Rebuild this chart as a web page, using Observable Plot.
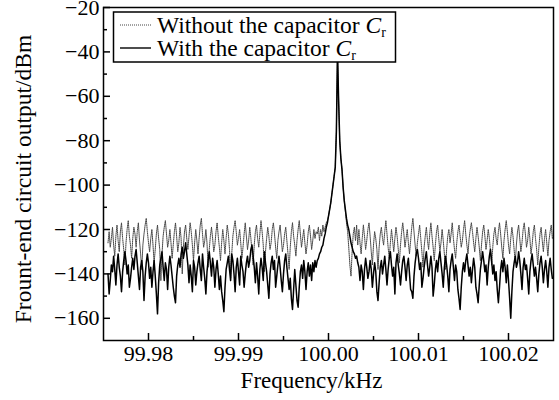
<!DOCTYPE html>
<html>
<head>
<meta charset="utf-8">
<script src="https://cdn.jsdelivr.net/npm/d3@7"></script>
<script src="https://cdn.jsdelivr.net/npm/@observablehq/plot@0.6"></script>
<style>
  html, body { margin: 0; padding: 0; background: white; }
  #wrap { position: relative; width: 559px; height: 400px; }
  #wrap svg, #wrap svg text, #wrap svg tspan { font-family: 'Liberation Serif', 'Times New Roman', serif !important; }
  #legend { position: absolute; left: 0; top: 0; pointer-events: none; }
</style>
</head>
<body>
<div id="wrap"></div>
<script>
// Frequency grid of the spectrum (kHz): first bin and bin spacing
const freqStart = 99.9755;
const freqStep = 0.000125;

// Front-end circuit output (dBm), with the capacitor Cr (solid line)
const withCap = [
  -140, -149, -143, -136, -139, -132, -138, -145, -136, -131,
  -137, -141, -148, -139, -134, -130, -134, -140, -136, -146,
  -142, -137, -133, -138, -132, -129, -135, -141, -147, -137,
  -134, -139, -152, -141, -135, -131, -135, -142, -137, -146,
  -139, -134, -141, -149, -158, -144, -136, -133, -130, -137,
  -143, -135, -138, -147, -137, -132, -136, -141, -146, -150,
  -153, -141, -136, -133, -137, -131, -128, -133, -130, -126,
  -131, -136, -144, -136, -141, -148, -134, -137, -145, -139,
  -135, -132, -138, -143, -131, -137, -142, -149, -139, -134,
  -130, -135, -141, -133, -137, -146, -138, -134, -140, -147,
  -141, -148, -152, -157, -146, -138, -135, -132, -138, -143,
  -131, -134, -140, -148, -137, -133, -139, -145, -132, -136,
  -139, -146, -140, -135, -132, -137, -134, -129, -127, -132,
  -137, -144, -135, -141, -149, -138, -133, -137, -143, -130,
  -135, -139, -145, -151, -140, -135, -132, -138, -134, -146,
  -141, -136, -132, -137, -143, -148, -140, -134, -131, -137,
  -142, -147, -142, -151, -156, -147, -138, -145, -152, -155,
  -146, -139, -136, -142, -134, -139, -147, -139, -135, -141,
  -136, -143, -135, -139, -134, -137,
  -134, -133, -131, -130, -128, -127, -124, -122, -119, -117,
  -114, -111, -108, -104, -100, -96, -92, -76, -40, -62,
  -80, -88, -93, -101, -107, -111, -115, -118, -120, -123,
  -126, -128, -130, -131, -133, -132, -135,
  -137, -143, -136, -139, -147, -138, -133,
  -137, -142, -139, -134, -138, -146, -140, -135, -139, -148,
  -152, -144, -137, -134, -140, -136, -132, -138, -145, -138,
  -133, -130, -136, -141, -137, -149, -135, -131, -136, -140,
  -145, -139, -134, -132, -137, -143, -136, -133, -140, -147,
  -148, -151, -141, -135, -131, -129, -133, -138, -135, -146,
  -142, -137, -133, -130, -136, -141, -137, -132, -137, -150,
  -145, -138, -134, -139, -133, -130, -135, -140, -146, -137,
  -132, -136, -141, -148, -138, -134, -131, -137, -143, -136,
  -139, -147, -151, -156, -146, -139, -135, -139, -134, -131,
  -136, -141, -137, -144, -138, -133, -137, -146, -149, -153,
  -145, -138, -134, -130, -134, -139, -136, -145, -137, -132,
  -129, -134, -140, -136, -143, -139, -147, -153, -146, -138,
  -134, -139, -133, -137, -144, -136, -143, -151, -160, -148,
  -139, -135, -132, -137, -135, -130, -134, -140, -147, -137,
  -133, -138, -136, -142, -149, -139, -134, -131, -136, -141,
  -137, -142, -148, -140, -135, -132, -137, -144, -138, -134,
  -139, -146, -137, -133, -138, -142
];

// Front-end circuit output (dBm), without the capacitor Cr (dotted line)
const withoutCap = [
  -126, -121, -128, -124, -119, -127, -132, -123, -118, -125,
  -130, -121, -117, -124, -129, -136, -126, -120, -116, -123,
  -127, -133, -124, -119, -122, -128, -121, -117, -125, -131,
  -138, -127, -122, -118, -115, -121, -126, -130, -124, -120,
  -127, -135, -129, -122, -118, -124, -129, -143, -131, -123,
  -119, -116, -122, -128, -125, -120, -126, -133, -127, -121,
  -117, -123, -130, -126, -119, -124, -140, -128, -121, -118,
  -124, -129, -123, -117, -121, -127, -134, -126, -120, -125,
  -131, -124, -118, -115, -122, -128, -125, -120, -126, -137,
  -129, -123, -119, -124, -130, -127, -121, -117, -123, -128,
  -134, -126, -120, -125, -131, -124, -118, -122, -129, -142,
  -131, -123, -119, -116, -121, -127, -124, -120, -126, -133,
  -128, -122, -117, -123, -129, -125, -119, -124, -130, -136,
  -127, -121, -118, -124, -128, -122, -116, -121, -127, -139,
  -130, -124, -119, -123, -129, -126, -120, -117, -122, -128,
  -133, -125, -121, -118, -124, -130, -127, -122, -119, -125,
  -131, -138, -128, -121, -117, -123, -127, -132, -125, -120,
  -116, -122, -128, -124, -120, -126, -131, -127, -121, -118,
  -123, -129, -125, -120, -124, -121,
  -122, -119, -125, -120, -123, -118, -121, -119, -117, -116,
  -114, -111, -108, -104, -100, -96, -92, -76, -40, -62,
  -80, -88, -93, -101, -107, -112, -117, -121, -128, -136,
  -141, -130, -122, -119, -125, -118, -127,
  -120, -126, -131, -124, -118, -123, -129,
  -125, -120, -117, -123, -130, -136, -127, -121, -124, -129,
  -138, -128, -122, -119, -124, -127, -121, -116, -122, -128,
  -133, -126, -120, -125, -130, -124, -119, -123, -129, -135,
  -127, -121, -117, -122, -128, -124, -120, -126, -131, -125,
  -119, -115, -121, -127, -132, -126, -122, -118, -124, -130,
  -137, -128, -123, -119, -125, -129, -122, -117, -123, -128,
  -134, -127, -121, -118, -124, -130, -126, -120, -125, -131,
  -138, -129, -123, -120, -126, -122, -117, -124, -129, -133,
  -126, -121, -118, -123, -128, -125, -120, -116, -122, -127,
  -131, -124, -120, -117, -121, -126, -130, -124, -119, -123,
  -128, -134, -127, -121, -118, -123, -129, -125, -120, -124,
  -130, -136, -128, -122, -119, -124, -127, -121, -117, -122,
  -128, -133, -125, -120, -116, -121, -127, -131, -124, -119,
  -123, -129, -135, -127, -121, -118, -124, -130, -126, -120,
  -117, -122, -128, -125, -119, -124, -131, -127, -121, -118,
  -124, -129, -136, -128, -122, -119, -125, -130, -124, -120,
  -126, -132, -125, -121, -118, -124
];

// Axis ticks
const xMajor = [99.98, 99.99, 100.00, 100.01, 100.02];
const xMinor = [99.985, 99.995, 100.005, 100.015];
const yMajor = [-20, -40, -60, -80, -100, -120, -140, -160];
const yMinor = [-30, -50, -70, -90, -110, -130, -150];

const xLabel = "Frequency/kHz";
const yLabel = "Frount-end circuit output/dBm";
const legendLabels = ["Without the capacitor ", "With the capacitor "];

const toRows = (vals) => vals.map((v, i) => ({f: freqStart + i * freqStep, v}));
const rowsWithout = toRows(withoutCap);
const rowsWith = toRows(withCap);

const font = "'Liberation Serif', 'Times New Roman', serif";
const fs = 22;

const chart = Plot.plot({
  width: 559,
  height: 400,
  marginLeft: 103,
  marginRight: 6,
  marginTop: 7,
  marginBottom: 60,
  style: {fontFamily: font, fontSize: fs + "px", color: "black", background: "white"},
  x: {domain: [99.975, 100.025]},
  y: {domain: [-170, -20]},
  marks: [
    Plot.line(rowsWithout, {x: "f", y: "v", stroke: "#444", strokeWidth: 1, strokeDasharray: "1,1"}),
    Plot.line(rowsWith, {x: "f", y: "v", stroke: "black", strokeWidth: 1.5}),
    Plot.axisX(xMajor, {tickSize: 0, tickPadding: 5, tickFormat: d3.format(".2f"), fontFamily: font, fontSize: fs, label: null}),
    Plot.axisX(xMajor, {tickSize: -7, tickFormat: () => "", strokeWidth: 1.5, label: null}),
    Plot.axisX(xMinor, {tickSize: -4, tickFormat: () => "", strokeWidth: 1.5, label: null}),
    Plot.axisY(yMajor, {tickSize: 0, tickPadding: 4, tickFormat: d3.format("d"), fontFamily: font, fontSize: fs, label: null}),
    Plot.axisY(yMajor, {tickSize: -7, tickFormat: () => "", strokeWidth: 1.5, label: null}),
    Plot.axisY(yMinor, {tickSize: -4, tickFormat: () => "", strokeWidth: 1.5, label: null}),
    Plot.text([xLabel], {text: d => d, frameAnchor: "bottom", dx: -17, dy: 40, fontFamily: font, fontSize: 23, textAnchor: "middle", lineAnchor: "middle"}),
    Plot.text([yLabel], {text: d => d, frameAnchor: "left", rotate: -90, dx: -80, dy: 5, fontFamily: font, fontSize: 23.5, textAnchor: "middle", lineAnchor: "middle"}),
    Plot.frame({stroke: "black", strokeWidth: 1.5})
  ]
});

const wrap = document.getElementById("wrap");
wrap.appendChild(chart);

// Legend box inside the plot area (upper left)
const lg = d3.select(wrap).append("svg")
  .attr("id", "legend").attr("width", 559).attr("height", 400);
lg.append("rect").attr("x", 113.5).attr("y", 12).attr("width", 282).attr("height", 50)
  .attr("fill", "white").attr("stroke", "black").attr("stroke-width", 1.5);
const rowsY = [25, 48];
const styles = [{stroke: "#444", w: 1, dash: "1,1"}, {stroke: "black", w: 1.4, dash: null}];
legendLabels.forEach((lab, i) => {
  lg.append("line").attr("x1", 120).attr("x2", 151).attr("y1", rowsY[i]).attr("y2", rowsY[i])
    .attr("stroke", styles[i].stroke).attr("stroke-width", styles[i].w)
    .attr("stroke-dasharray", styles[i].dash);
  const t = lg.append("text").attr("x", 157).attr("y", rowsY[i]).attr("dy", "0.34em")
    .attr("font-family", font).attr("font-size", 23.5).attr("fill", "black");
  t.append("tspan").text(lab);
  t.append("tspan").attr("font-style", "italic").text("C");
  t.append("tspan").attr("font-size", 14).attr("dy", "0.3em").text("r");
});
</script>
</body>
</html>
